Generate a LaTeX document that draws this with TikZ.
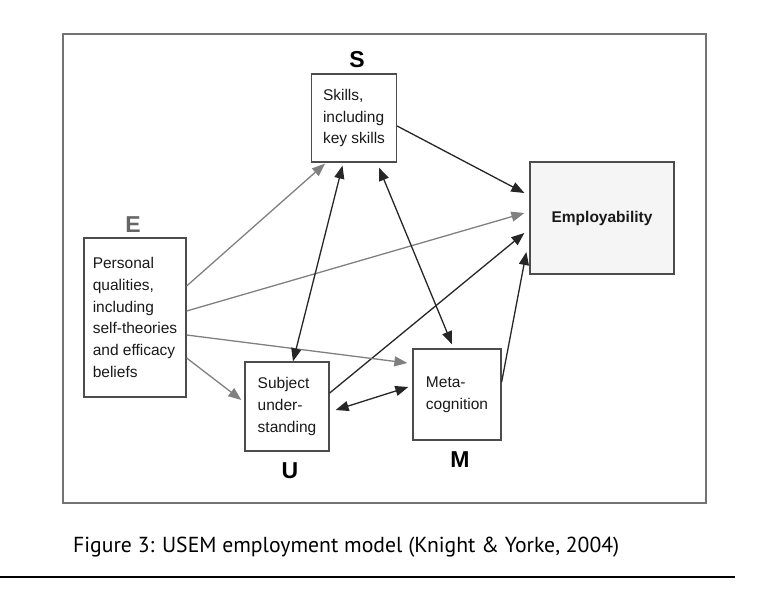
\documentclass[tikz,border=0pt]{standalone}
\usepackage{fontspec}
\setmainfont{Liberation Sans}
\newfontfamily\capfont{PT Sans}
\usetikzlibrary{arrows.meta,positioning}

\begin{document}
\begin{tikzpicture}[x=1pt, y=-1pt,
  box/.style={draw=black!70, line width=1.3pt, align=left, text=black!90, font=\fontsize{15.5}{21.7}\selectfont},
  tag/.style={inner sep=0pt, font=\fontsize{23}{23}\selectfont\bfseries},
  blk/.style={draw=black!85, line width=1.3pt, -{Triangle[length=13pt,width=10pt]}},
  gry/.style={draw=black!50, line width=1.3pt, -{Triangle[length=13pt,width=10pt]}},
  both/.style={blk, {Triangle[length=13pt,width=10pt]}-{Triangle[length=13pt,width=10pt]}}]
\useasboundingbox (0,0) rectangle (768,589);
\draw[draw=black!55, line width=1.5pt] (63,34) rectangle (706,503);
\node[box, minimum width=85pt, minimum height=88pt] (S) at (354,118) {Skills,\\including\\key skills};
\node[box, minimum width=102pt, minimum height=159pt] (E) at (135,317.5) {Personal\\qualities,\\including\\self-theories\\and efficacy\\beliefs};
\node[box, minimum width=84pt, minimum height=89pt] (U) at (287,406.5) {Subject\\under-\\standing};
\node[box, minimum width=88pt, minimum height=91pt] (M) at (457,394.5) {Meta-\\cognition};
\node[box, fill=black!4, minimum width=144pt, minimum height=112pt, font=\fontsize{15.5}{18}\selectfont\bfseries] (P) at (602,218) {Employability};
\node[tag, above=5pt of S, xshift=3pt] (Sl) {S};
\node[tag, text=black!60, above=5pt of E, xshift=-2pt] (El) {E};
\node[tag, below=11pt of U, xshift=3pt] (Ul) {U};
\node[tag, below=11pt of M, xshift=3pt] (Ml) {M};
\draw[blk] ([yshift=-8pt]S.east) -- ([xshift=-5pt,yshift=25pt]P.west);
\draw[gry] ([yshift=6.5pt]E.east) -- ([xshift=-5pt,yshift=5pt]P.west);
\draw[blk] ([yshift=13.5pt]U.east) -- ([xshift=-5pt,yshift=-15pt]P.west);
\draw[blk] ([yshift=12.5pt]M.east) -- ([xshift=-3pt,yshift=-34pt]P.west);
\draw[gry] ([yshift=31.5pt]E.east) -- ([xshift=-29pt,yshift=-1pt]S.south);
\draw[gry] ([yshift=-17.5pt]E.east) -- ([xshift=-5pt,yshift=31.5pt]M.west);
\draw[gry] ([yshift=-40.5pt]E.east) -- ([xshift=-3pt,yshift=6.5pt]U.west);
\draw[both] ([xshift=6pt]U.north) -- ([xshift=-11.5pt,yshift=-3pt]S.south);
\draw[both] ([xshift=25pt,yshift=-5pt]S.south) -- ([xshift=-5pt,yshift=4pt]M.north);
\draw[both] ([xshift=6pt,yshift=-3.5pt]U.east) -- ([xshift=-4pt,yshift=7.5pt]M.west);
\node[anchor=base west, inner sep=0pt, font=\capfont\fontsize{21.7}{21.7}\selectfont] (cap) at (73,552) {Figure 3: USEM employment model (Knight \& Yorke, 2004)};
\draw[line width=1.3pt] (0,577) -- (735,577);
\end{tikzpicture}
\end{document}
